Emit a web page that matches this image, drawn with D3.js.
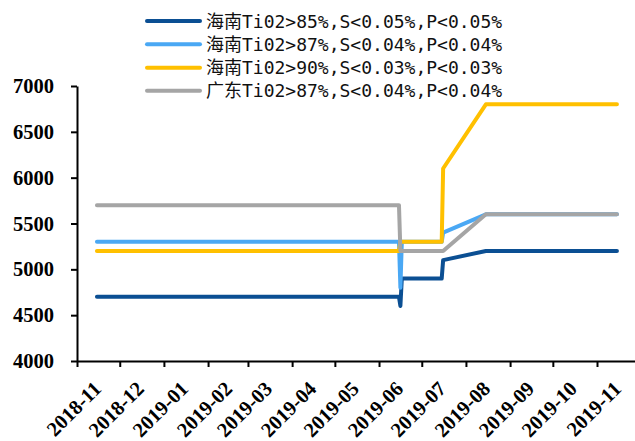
<!DOCTYPE html>
<html>
<head>
<meta charset="utf-8">
<script src="https://cdn.jsdelivr.net/npm/d3@7/dist/d3.min.js"></script>
<style>
  html, body { margin: 0; padding: 0; background: #fff; }
  svg { display: block; }
  .serif-lbl { font-family: "Liberation Serif", "Times New Roman", serif; font-weight: bold; }
</style>
</head>
<body>
<svg id="chart" width="635" height="441"></svg>
<script>
// ---- data ----
const dates = ["2018-11-15","2019-06-15","2019-06-16","2019-06-17","2019-07-15","2019-07-16","2019-08-15","2019-11-15"];
const hn85 = [4700,4700,4600,4900,4900,5100,5200,5200];
const hn87 = [5300,5300,4800,5300,5300,5400,5600,5600];
const hn90 = [5200,5200,5300,5300,5300,6100,6800,6800];
const gd87 = [5700,5700,5200,5200,5200,5200,5600,5600];
const seriesNames = [
  "海南Ti02>85%,S<0.05%,P<0.05%",
  "海南Ti02>87%,S<0.04%,P<0.04%",
  "海南Ti02>90%,S<0.03%,P<0.03%",
  "广东Ti02>87%,S<0.04%,P<0.04%"
];
const yTicks = [4000,4500,5000,5500,6000,6500,7000];
const tickStart = "2018-11-01", tickEnd = "2019-11-01";

// ---- setup ----
const colors = ["#0b4f93", "#4aa8f4", "#ffc000", "#a5a5a5"];
const parse = d3.timeParse("%Y-%m-%d");
const svg = d3.select("#chart");

const x0 = 77, x1 = 597; // pixel positions of first and last month tick
const t0 = parse(tickStart), t1 = parse(tickEnd);
const pxPerMs = (x1 - x0) / (t1 - t0);
const tMax = parse("2019-12-01");
const x = d3.scaleTime().domain([t0, tMax]).range([x0, x0 + (tMax - t0) * pxPerMs]);
const y = d3.scaleLinear().domain([4000, 7000]).range([361, 86]);

// ---- axes ----
const xAxis = d3.axisBottom(x)
  .tickValues(d3.timeMonth.range(t0, d3.timeDay.offset(t1, 1)))
  .tickSize(6).tickSizeOuter(0)
  .tickFormat(d3.timeFormat("%Y-%m"));
const gx = svg.append("g").attr("transform", "translate(0,361)").call(xAxis);
gx.attr("font-family", null);
gx.select(".domain").attr("stroke", "#000").attr("stroke-width", 2);
gx.selectAll(".tick line").attr("stroke", "#000").attr("stroke-width", 2);
gx.selectAll(".tick text")
  .attr("class", "serif-lbl")
  .style("font-size", "20.5px")
  .attr("fill", "#000")
  .attr("text-anchor", "end")
  .attr("dy", null).attr("y", null)
  .attr("transform", "translate(25,29) rotate(-45)");

const yAxis = d3.axisLeft(y).tickValues(yTicks).tickSize(6).tickSizeOuter(0).tickPadding(17)
  .tickFormat(d3.format("d"));
const gy = svg.append("g").attr("transform", `translate(${x0},0)`).call(yAxis);
gy.attr("font-family", null);
gy.select(".domain").attr("stroke", "#000").attr("stroke-width", 2);
gy.selectAll(".tick line").attr("stroke", "#000").attr("stroke-width", 2);
gy.selectAll(".tick text")
  .attr("class", "serif-lbl")
  .style("font-size", "20.5px")
  .attr("fill", "#000");

// ---- lines ----
const allSeries = [hn85, hn87, hn90, gd87];
const line = d3.line().x(d => x(d.date)).y(d => y(d.value));
allSeries.forEach((vals, i) => {
  const pts = dates.map((d, j) => ({ date: parse(d), value: vals[j] }));
  svg.append("path")
    .datum(pts)
    .attr("d", line)
    .attr("fill", "none")
    .attr("stroke", colors[i])
    .attr("stroke-width", 4)
    .attr("stroke-linejoin", "round")
    .attr("stroke-linecap", "round");
});

// ---- legend ----
const legendY = [21, 44.3, 67.7, 90.7];
seriesNames.forEach((name, i) => {
  const g = svg.append("g").attr("transform", `translate(0,${legendY[i]})`);
  g.append("line").attr("x1", 147).attr("x2", 200).attr("y1", 0).attr("y2", 0)
    .attr("stroke", colors[i]).attr("stroke-width", 4).attr("stroke-linecap", "round");
  g.append("text").attr("x", 206).attr("y", 0)
    .attr("dominant-baseline", "central")
    .style("font-family", "'DejaVu Sans Mono', 'Noto Sans CJK SC', monospace")
    .style("font-size", "18px")
    .attr("fill", "#111")
    .text(name);
});
</script>
</body>
</html>
